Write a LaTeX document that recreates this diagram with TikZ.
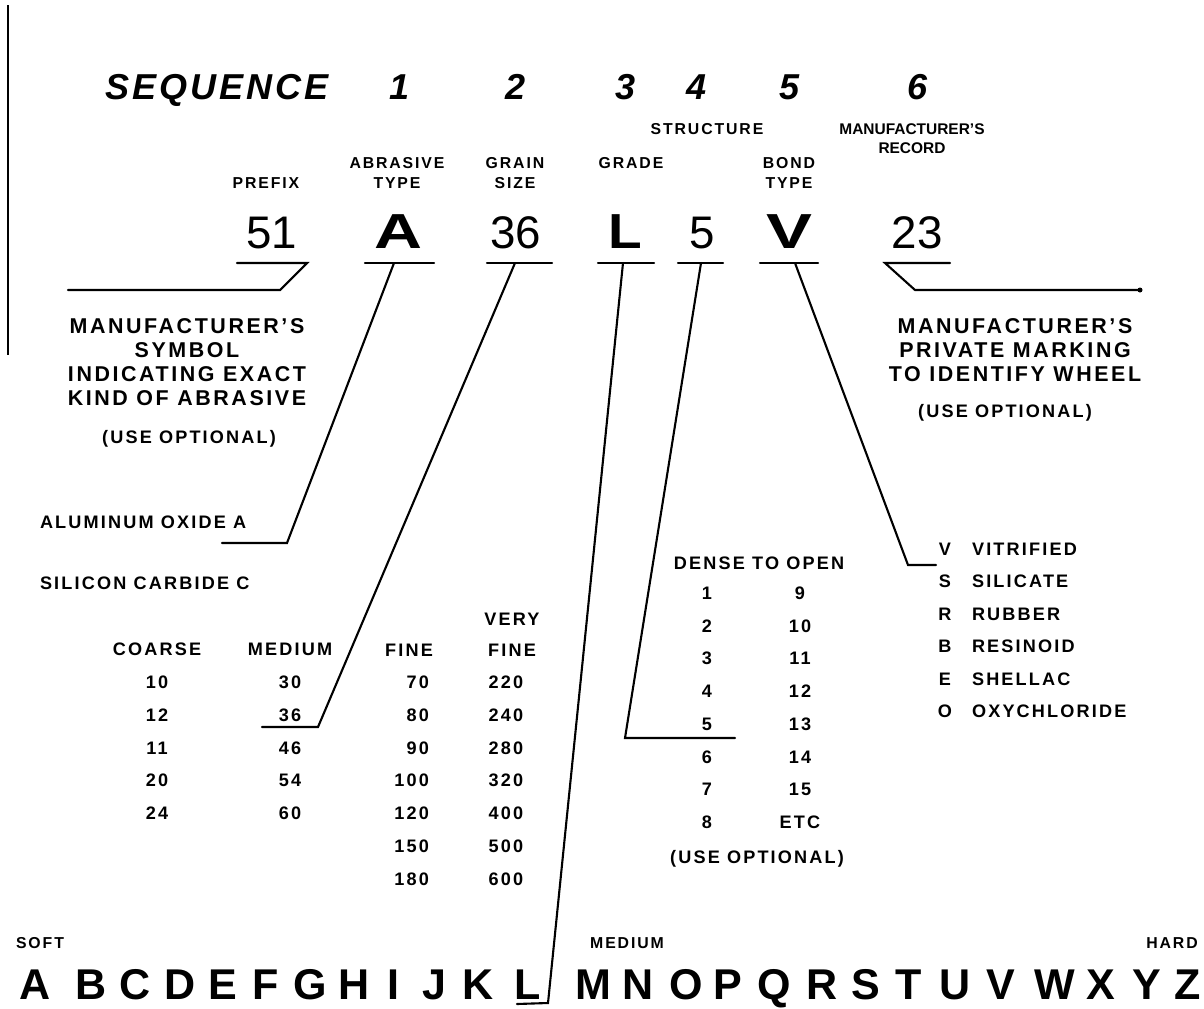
\documentclass[tikz,border=0pt]{standalone}
\usepackage{fontspec}
\setmainfont{Liberation Sans}
\newfontfamily\spaced[LetterSpace=12]{Liberation Sans}
\newfontfamily\spacedseq[LetterSpace=8]{Liberation Sans}
\begin{document}
\begin{tikzpicture}[x=0.02cm,y=-0.02cm,
  every node/.style={inner sep=0pt, outer sep=0pt},
  conn/.style={line width=1.2pt, line cap=round, line join=miter},
  seqtxt/.style={font={\spacedseq\fontsize{20.5}{20.5}\selectfont\bfseries\itshape}, text height=14.7pt, text depth=0pt},
  bigval/.style={font={\fontsize{26}{26}\selectfont}, text height=18.6pt, text depth=0pt},
  bigvalb/.style={font={\fontsize{28}{28}\selectfont\bfseries}, text height=20pt, text depth=0pt},
  lbl/.style={font={\spaced\fontsize{9}{11.3}\selectfont\bfseries}, text height=6.45pt, text depth=0pt},
  lblrec/.style={font={\fontsize{8.8}{10.8}\selectfont\bfseries}, text height=6.3pt, text depth=0pt},
  note/.style={font={\spaced\fontsize{12.2}{13.6}\selectfont\bfseries}, text height=8.7pt, text depth=0pt},
  tab/.style={font={\spaced\fontsize{10.3}{10}\selectfont\bfseries}, text height=7.4pt, text depth=0pt},
  grade/.style={font={\fontsize{24.5}{24.5}\selectfont\bfseries}, text height=17.5pt, text depth=0pt}
]
\useasboundingbox (0,0) rectangle (1204,1008);
% scan edge line
\draw[line width=1.4pt] (8,5) coordinate (edgeT) -- (8,355) coordinate (edgeB);

% sequence row
\node[seqtxt] (seq) at (217,87) {SEQUENCE};
\node[seqtxt] (s1) at (400,87) {1};
\node[seqtxt] (s2) at (516,87) {2};
\node[seqtxt] (s3) at (626,87) {3};
\node[seqtxt] (s4) at (697,87) {4};
\node[seqtxt] (s5) at (790,87) {5};
\node[seqtxt] (s6) at (918,87) {6};

% labels
\node[lbl] (lstruct) at (707,129) {STRUCTURE};
\node[lblrec] (lrec1) at (912,129) {MANUFACTURER'S};
\node[lblrec] (lrec2) at (912,148) {RECORD};
\node[lbl] (lpre) at (266,183) {PREFIX};
\node[lbl] (labr1) at (397,163) {ABRASIVE};
\node[lbl] (labr2) at (397,183) {TYPE};
\node[lbl] (lgrain1) at (515,163) {GRAIN};
\node[lbl] (lgrain2) at (515,183) {SIZE};
\node[lbl] (lgrade) at (631,163) {GRADE};
\node[lbl] (lbond1) at (789,163) {BOND};
\node[lbl] (lbond2) at (789,183) {TYPE};

% values
\node[bigval] (v51) at (272,232) {51};
\node[bigvalb] (vA) at (398,231) {\scalebox{1.35}[1]{A}};
\node[bigval] (v36) at (516,232) {36};
\node[bigvalb] (vL) at (625,231) {\scalebox{1.12}[1]{L}};
\node[bigval] (v5) at (702,232) {5};
\node[bigvalb] (vV) at (789,231) {\scalebox{1.4}[1]{V}};
\node[bigval] (v23) at (917,232) {23};

% underline coordinates
\coordinate (u51l) at (237,263); \coordinate (u51r) at (307,263);
\coordinate (k51) at (280,290); \coordinate (e51) at (68,290);
\coordinate (uAl) at (365,263); \coordinate (uAr) at (434,263); \coordinate (uAs) at (394,263);
\coordinate (u36l) at (487,263); \coordinate (u36r) at (552,263); \coordinate (u36s) at (515,263);
\coordinate (uLl) at (598,263); \coordinate (uLr) at (654,263); \coordinate (uLs) at (623,263);
\coordinate (u5l) at (678,263); \coordinate (u5r) at (723,263); \coordinate (u5s) at (701,263);
\coordinate (uVl) at (760,263); \coordinate (uVr) at (818,263); \coordinate (uVs) at (795,263);
\coordinate (u23l) at (885,263); \coordinate (u23r) at (950,263);
\coordinate (k23) at (915,290); \coordinate (e23) at (1140,290);

% side notes
\node[note] (ml1) at (187,326) {MANUFACTURER’S};
\node[note] (ml2) at (187,350) {SYMBOL};
\node[note] (ml3) at (187,374) {INDICATING EXACT};
\node[note] (ml4) at (187,398) {KIND OF ABRASIVE};
\node[tab] (optl) at (189,437) {(USE OPTIONAL)};
\node[note] (mr1) at (1015,326) {MANUFACTURER’S};
\node[note] (mr2) at (1015,350) {PRIVATE MARKING};
\node[note] (mr3) at (1015,374) {TO IDENTIFY WHEEL};
\node[tab] (optr) at (1005,411) {(USE OPTIONAL)};

% abrasive types
\node[tab, anchor=west] (alox) at (40,522) {ALUMINUM OXIDE A};
\node[tab, anchor=west] (sic) at (40,583) {SILICON CARBIDE C};
\coordinate (kA) at (287,543); \coordinate (eA) at (222,543);

% grain size table
\node[tab] (hvery) at (512,619) {VERY};
\node[tab] (hcoarse) at (157,649) {COARSE};
\node[tab] (hmed) at (290,649) {MEDIUM};
\node[tab] (hfine) at (409,650) {FINE};
\node[tab] (hvfine) at (512,650) {FINE};
\foreach \v [count=\i] in {10,12,11,20,24} {
  \node[tab] (co\i) at (157,{682+32.8*(\i-1)}) {\v};
}
\foreach \v [count=\i] in {30,36,46,54,60} {
  \node[tab] (me\i) at (290,{682+32.8*(\i-1)}) {\v};
}
\foreach \v [count=\i] in {70,80,90,100,120,150,180} {
  \node[tab, anchor=east] (fi\i) at (429,{682+32.8*(\i-1)}) {\v};
}
\foreach \v [count=\i] in {220,240,280,320,400,500,600} {
  \node[tab] (vf\i) at (506,{682+32.8*(\i-1)}) {\v};
}
\coordinate (k36) at (318,727); \coordinate (e36) at (262,727);

% structure table
\node[tab] (hdense) at (759,563) {DENSE TO OPEN};
\foreach \v [count=\i] in {1,2,3,4,5,6,7,8} {
  \node[tab] (st\i) at (707,{593+32.7*(\i-1)}) {\v};
}
\foreach \v [count=\i] in {9,10,11,12,13,14,15,ETC} {
  \node[tab] (su\i) at (800,{593+32.7*(\i-1)}) {\v};
}
\node[tab] (opts) at (757,857) {(USE OPTIONAL)};
\coordinate (k5) at (625,738); \coordinate (e5) at (735,738);

% bond table
\foreach \l/\n [count=\i] in {V/VITRIFIED,S/SILICATE,R/RUBBER,B/RESINOID,E/SHELLAC,O/OXYCHLORIDE} {
  \node[tab] (bl\i) at (945,{549+32.4*(\i-1)}) {\l};
  \node[tab, anchor=west] (bn\i) at (972,{549+32.4*(\i-1)}) {\n};
}
\coordinate (kV) at (908,565); \coordinate (eV) at (936,565);

% grade scale
\node[lbl] (soft) at (40,943) {SOFT};
\node[lbl] (medium) at (627,943) {MEDIUM};
\node[lbl] (hard) at (1172,943) {HARD};
\foreach \l/\x in {A/35,B/91,C/135,D/180,E/223,F/266,G/310,H/354,I/393,J/434,K/478,L/528,M/593,N/638,O/686,P/728,Q/774,R/822,S/866,T/909,U/955,V/1001,W/1055,X/1101,Y/1147,Z/1188} {
  \node[grade] (g\l) at (\x,984) {\l};
}
\coordinate (kL) at (548,1003); \coordinate (eL) at (517,1004);

% connectors
\draw[conn] (u51l) -- (u51r) -- (k51) -- (e51);
\draw[conn] (uAl) -- (uAr);
\draw[conn] (uAs) -- (kA) -- (eA);
\draw[conn] (u36l) -- (u36r);
\draw[conn] (u36s) -- (k36) -- (e36);
\draw[conn] (uLl) -- (uLr);
\draw[conn] (uLs) -- (kL) -- (eL);
\draw[conn] (u5l) -- (u5r);
\draw[conn] (u5s) -- (k5) -- (e5);
\draw[conn] (uVl) -- (uVr);
\draw[conn] (uVs) -- (kV) -- (eV);
\draw[conn] (u23r) -- (u23l) -- (k23) -- (e23);
\fill (e23) circle (2.5);
\end{tikzpicture}
\end{document}
